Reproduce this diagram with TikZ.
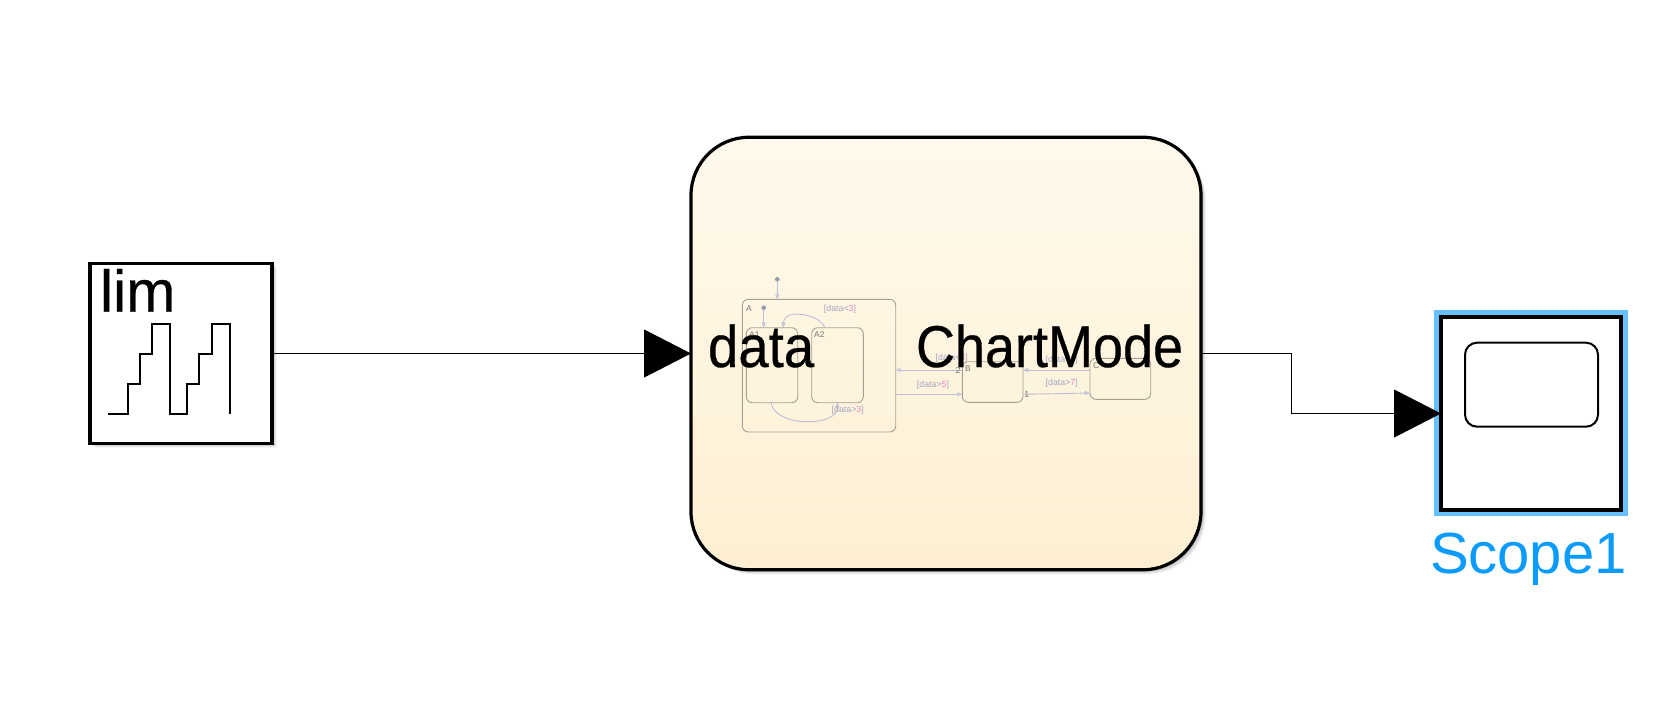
\documentclass[tikz,border=0pt]{standalone}
\usepackage{fontspec}
\setmainfont{Liberation Sans}
\usetikzlibrary{arrows.meta}
\definecolor{stateline}{HTML}{A89F94}
\definecolor{transline}{HTML}{BCBDD8}
\definecolor{translabel}{HTML}{A5A5C5}
\definecolor{digit}{HTML}{E888C8}
\definecolor{statelabel}{HTML}{777777}
\definecolor{selblue}{HTML}{66BFFF}
\definecolor{namecol}{HTML}{0A9BFF}
\definecolor{charttop}{RGB}{255,249,236}
\definecolor{chartbot}{RGB}{254,239,210}
\newfontfamily\heavyfont[FakeBold=0.5]{Liberation Sans}
\newcommand{\bigfont}{\heavyfont\fontsize{59}{59}\selectfont}
\newcommand{\dg}[1]{\textcolor{digit}{#1}}
\newcommand{\squeezed}[2]{\scalebox{#1}[1]{#2}}
\tikzset{
  block/.style={draw=black,line width=3.2pt,fill=white,inner sep=0pt,outer sep=0pt},
  bigtext/.style={font=\bigfont,text=black,inner sep=0pt,outer sep=0pt,anchor=base west},
  nametext/.style={font=\fontsize{58}{58}\selectfont,text=namecol,inner sep=0pt,outer sep=0pt,anchor=base west},
  sig/.style={draw=black,line width=1pt},
  sigarrow/.style={sig,-{Triangle[length=47pt,width=48pt]}},
  glyph/.style={draw=black,line width=2pt,line join=miter},
  statebox/.style={draw=stateline,line width=0.9pt,rounded corners=6pt,inner sep=0pt,outer sep=0pt},
  trans/.style={draw=transline,line width=0.9pt},
  transarrow/.style={trans,-{Triangle[open,length=5pt,width=4pt]}},
  dotnode/.style={circle,fill=transline!80!black,draw=none,minimum size=4.6pt,inner sep=0pt},
  tlabel/.style={font=\fontsize{8.8}{9}\selectfont,text=translabel,inner sep=0pt},
  slabel/.style={font=\fontsize{8.5}{9}\selectfont,text=statelabel,inner sep=0pt,anchor=base west}
}
\begin{document}
\begin{tikzpicture}[x=1pt,y=-1pt]
\useasboundingbox (0,0) rectangle (1666,702);
\fill[white] (0,0) rectangle (1666,702);
% shadows
\foreach \d/\o in {1/0.10,2/0.09,3/0.08,4/0.06,5/0.04}{
  \fill[black,opacity=\o] (90+\d,263+\d) rectangle (272+\d,443+\d);
  \fill[black,opacity=\o,rounded corners=58pt] (691+\d,137+\d) rectangle (1201+\d,569.5+\d);
  \fill[black,opacity=\o] (1441,317) rectangle (1621+\d,510+\d);
}
% blocks
\node[block,minimum width=182pt,minimum height=180pt] (lim) at (181,353.5) {};
\node[block,rounded corners=58pt,minimum width=510pt,minimum height=432.5pt,shading=axis,top color=charttop,bottom color=chartbot] (chart) at (946,353.5) {};
\fill[selblue] (1434,310) rectangle (1628,515.7);
\node[block,minimum width=180pt,minimum height=193.3pt,line width=3.6pt] (scope) at (1531,413.5) {};
\node[draw=black,line width=2pt,rounded corners=12pt,inner sep=0pt,outer sep=0pt,minimum width=133pt,minimum height=84pt] (screen) at (1531.5,384.7) {};
% staircase
\draw[glyph] (108,414) -- (127.5,414) -- (127.5,384) -- (139.5,384) -- (139.5,354) -- (152,354) -- (152,324) -- (169.5,324) -- (169.5,414) -- (187,414) -- (187,384) -- (199,384) -- (199,354) -- (212,354) -- (212,324) -- (229.5,324) -- (229.5,414);
% chart miniature
\node[statebox,minimum width=153.4pt,minimum height=132.7pt] (sA) at (819,365.65) {};
\node[statebox,minimum width=51.4pt,minimum height=75pt] (sA1) at (772,365.2) {};
\node[statebox,minimum width=51.6pt,minimum height=75pt] (sA2) at (837.5,365.2) {};
\node[statebox,minimum width=60.7pt,minimum height=40.6pt] (sB) at (992.65,382) {};
\node[statebox,minimum width=60.7pt,minimum height=41pt] (sC) at (1120.35,378.8) {};
\node[dotnode] (d1) at (777.3,279.3) {};
\node[dotnode] (d2) at (763.7,307.7) {};
\coordinate (a1top) at (763.7,327.7);
\coordinate (atop) at (777.3,299.3);
\draw[transarrow] (d1) -- (atop);
\draw[transarrow] (d2) -- (a1top);
\coordinate (a2out) at (825,327.7);
\coordinate (a1in) at (783.3,327.7);
\draw[transarrow] (a2out) .. controls (821,318) and (806,314) .. (795,314) .. controls (788,314) and (783.3,319) .. (a1in);
\coordinate (a1out) at (771,402.7);
\coordinate (a2in) at (837.3,402.7);
\draw[transarrow] (a1out) .. controls (773,416) and (792,422) .. (808,421.7) .. controls (826,421.5) and (837.3,416) .. (a2in);
\coordinate (aeU) at (895.7,370); \coordinate (beU) at (962.3,370);
\coordinate (aeL) at (895.7,394.3); \coordinate (beL) at (962.3,394.3);
\coordinate (brU) at (1023,370); \coordinate (clU) at (1090,370);
\coordinate (brL) at (1023,394.3); \coordinate (clL) at (1090,393);
\draw[transarrow] (beU) -- (aeU);
\draw[transarrow] (aeL) -- (beL);
\draw[transarrow] (clU) -- (brU);
\draw[transarrow] (brL) -- (clL);
\node[tlabel] (l1) at (840,309) {[data<\dg{3}]};
\node[tlabel] (l2) at (847.7,410) {[data>\dg{3}]};
\node[tlabel] (l3) at (933,385) {[data>\dg{5}]};
\node[tlabel] (l4) at (951.7,358) {[data<\dg{4}]};
\node[tlabel] (l5) at (1061.7,383) {[data>\dg{7}]};
\node[tlabel] (l6) at (1061.7,360) {[data<\dg{6}]};
\node[tlabel,text=statelabel] (n2) at (958,370) {2};
\node[tlabel,text=statelabel] (n1) at (1026.7,394) {1};
\node[slabel] (tA) at (746,311) {A};
\node[slabel] (tA1) at (749,337) {A1};
\node[slabel] (tA2) at (814,337) {A2};
\node[slabel] (tB) at (965,371) {B};
\node[slabel] (tC) at (1093,368) {C};
% connectors
\draw[sigarrow] (lim) -- (chart);
\coordinate (jog) at (1291.5,413.5);
\draw[sig] (chart.east) -| (jog);
\draw[sigarrow] (jog) -- (scope.west);
% big text
\node[bigtext] (tlim) at (100,311.7) {lim};
\node[bigtext] (tdata) at (708,367) {\squeezed{0.925}{data}};
\node[bigtext] (tmode) at (916,367) {\squeezed{0.915}{ChartMode}};
\node[nametext] (tname) at (1430,573) {Scope1};
\end{tikzpicture}
\end{document}
